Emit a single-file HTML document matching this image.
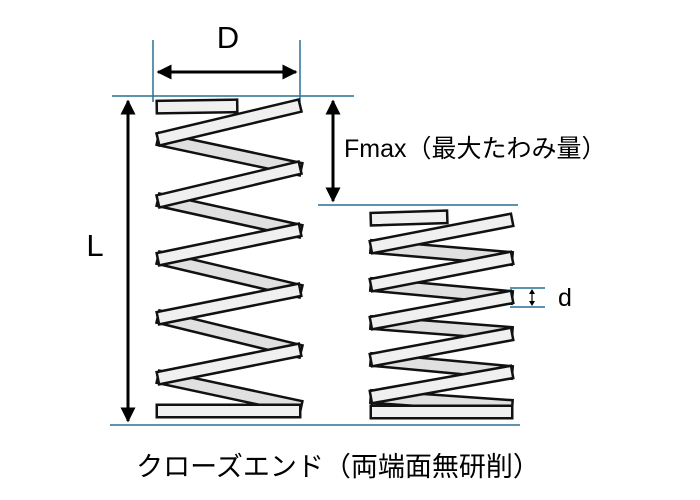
<!DOCTYPE html>
<html><head><meta charset="utf-8"><style>
html,body{margin:0;padding:0;background:#fff;width:700px;height:500px;overflow:hidden}
</style></head><body>
<svg width="700" height="500" viewBox="0 0 700 500" xmlns="http://www.w3.org/2000/svg">
<defs>
<marker id="ah" viewBox="0 0 10 10" refX="9" refY="5" markerWidth="5" markerHeight="5" orient="auto-start-reverse" markerUnits="strokeWidth"><path d="M0,0 L10,5 L0,10 z" fill="#000"/></marker>
</defs>
<g stroke="#2a6f97" stroke-width="1.5">
<line x1="112" y1="96" x2="354" y2="96"/>
<line x1="110" y1="425" x2="520" y2="425"/>
<line x1="318" y1="205" x2="518" y2="205"/>
<line x1="153" y1="40" x2="153" y2="102"/>
<line x1="300" y1="40" x2="300" y2="102"/>
<line x1="510" y1="288" x2="545" y2="288"/>
<line x1="510" y1="307" x2="545" y2="307"/>
</g>
<g stroke="#000" stroke-width="3" fill="none">
<line x1="158" y1="72" x2="296" y2="72" marker-start="url(#ah)" marker-end="url(#ah)"/>
<line x1="128" y1="101" x2="128" y2="421" marker-start="url(#ah)" marker-end="url(#ah)"/>
<line x1="333" y1="101" x2="333" y2="201" marker-start="url(#ah)" marker-end="url(#ah)"/>
</g>
<g stroke="#000" stroke-width="1.2"><line x1="532" y1="290" x2="532" y2="305"/></g>
<path d="M529,294 L532,289 L535,294z M529,301 L532,306 L535,301z" fill="#000"/>

<g fill="#000" font-family="Liberation Sans, sans-serif">
<text x="228" y="48" font-size="31" text-anchor="middle">D</text>
<text x="95" y="256" font-size="31" text-anchor="middle">L</text>
<text x="558" y="306" font-size="25">d</text>
<text x="344" y="157" font-size="25" font-family="Liberation Sans, 'Noto Sans CJK JP', sans-serif">Fmax（最大たわみ量）</text>
<text x="338" y="476" font-size="27" text-anchor="middle" font-family="Liberation Sans, 'Noto Sans CJK JP', sans-serif">クローズエンド（両端面無研削）</text>
</g>

<g stroke-linecap="square">
<g stroke="#111" stroke-width="15">
<path d="M164,140 L295,168 M164,201 L295,230 M164,259 L295,290 M164,318 L295,350 M164,378 L295,406"/>
</g>
<g stroke="#e0e0e0" stroke-width="10">
<path d="M164,140 L295,168 M164,201 L295,230 M164,259 L295,290 M164,318 L295,350 M164,378 L295,406"/>
</g>
<g stroke="#111" stroke-width="15">
<path d="M163,107 L231,106 M164,138 L294,107 M164,200 L294,169 M164,258 L294,231 M164,317 L294,291 M164,377 L294,351 M163,411 L294,411"/>
</g>
<g stroke="#f0f0f0" stroke-width="10">
<path d="M163,107 L231,106 M164,138 L294,107 M164,200 L294,169 M164,258 L294,231 M164,317 L294,291 M164,377 L294,351 M163,411 L294,411"/>
</g>
<g stroke="#111" stroke-width="15">
<path d="M377,247 L506,258 M377,285 L506,297 M377,323 L506,333 M377,360 L506,372 M377,397 L506,406"/>
</g>
<g stroke="#e0e0e0" stroke-width="10">
<path d="M377,247 L506,258 M377,285 L506,297 M377,323 L506,333 M377,360 L506,372 M377,397 L506,406"/>
</g>
<g stroke="#111" stroke-width="15">
<path d="M377,219 L441,217 M377,246 L506,221 M377,284 L506,259 M377,322 L506,298 M377,359 L506,335 M377,396 L506,373 M377,412 L506,412"/>
</g>
<g stroke="#f0f0f0" stroke-width="10">
<path d="M377,219 L441,217 M377,246 L506,221 M377,284 L506,259 M377,322 L506,298 M377,359 L506,335 M377,396 L506,373 M377,412 L506,412"/>
</g>
</g>
</svg>
</body></html>
